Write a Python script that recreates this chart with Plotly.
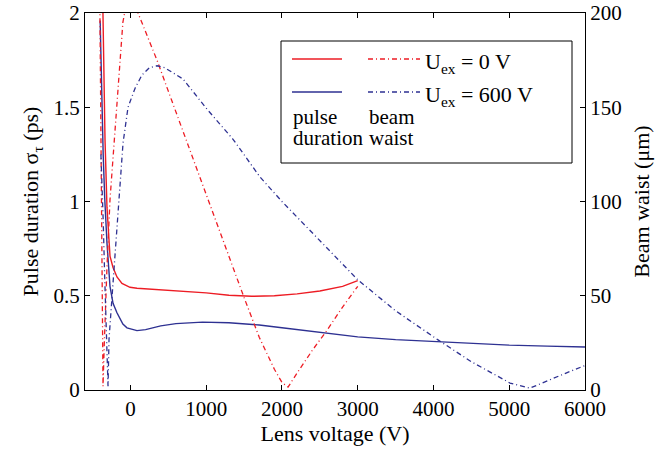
import plotly.graph_objects as go

# ---- data ----
# Pulse duration, U_ex = 0 V (left axis, ps)
pd0_x = [-365, -350, -336, -310, -290, -270, -230, -178, -112, -6, 86, 300, 600, 1000, 1300, 1600, 1900, 2200, 2500, 2800, 3000]
pd0_y = [2.05, 1.6, 1.33, 0.97, 0.8, 0.71, 0.65, 0.6, 0.565, 0.545, 0.54, 0.535, 0.528, 0.515, 0.503, 0.497, 0.5, 0.51, 0.525, 0.55, 0.58]

# Pulse duration, U_ex = 600 V (left axis, ps)
pd600_x = [-400, -380, -360, -340, -310, -270, -230, -178, -100, -46, 86, 200, 400, 600, 950, 1300, 1700, 2000, 2500, 3000, 3500, 4000, 4500, 5000, 5500, 6000]
pd600_y = [1.96, 1.55, 1.25, 1.02, 0.78, 0.55, 0.46, 0.41, 0.35, 0.33, 0.315, 0.32, 0.34, 0.352, 0.36, 0.357, 0.345, 0.33, 0.305, 0.282, 0.267, 0.256, 0.246, 0.238, 0.233, 0.228]

# Beam waist, U_ex = 0 V (right axis, um)
bw0_x = [-405, -400, -395, -390, -385, -380, -375, -370, -362, -345, -330, -310, -270, -204, -140, -100, -60, 0, 50, 100, 350, 550, 750, 1000, 1250, 1500, 1700, 1900, 2000, 2080, 2200, 2400, 2600, 2800, 3000]
bw0_y = [210, 180, 150, 115, 85, 55, 30, 12, 2, 25, 45, 65, 101, 137, 175, 195, 204, 207, 205, 200, 175, 153, 131, 104, 76, 49, 28, 11, 4, 1.5, 9, 21, 32, 44, 55]

# Beam waist, U_ex = 600 V (right axis, um)
bw600_x = [-390, -375, -360, -340, -320, -305, -296, -283, -244, -204, -164, -125, -98, -32, 60, 150, 250, 350, 450, 694, 1010, 1354, 1710, 2000, 2500, 3000, 3500, 4060, 4500, 5010, 5274, 5500, 5750, 6000]
bw600_y = [125, 110, 90, 60, 30, 10, 2, 27, 49, 74, 97, 119, 131, 150, 160, 167, 171, 172, 171, 165, 149, 133, 113, 100, 79, 58.5, 42, 26.6, 15, 3.7, 1, 5, 9, 13]

x_ticks = [0, 1000, 2000, 3000, 4000, 5000, 6000]
y1_ticks = [0, 0.5, 1, 1.5, 2]
y1_labels = ["0", "0.5", "1", "1.5", "2"]
y2_ticks = [0, 50, 100, 150, 200]

RED = "#ED1C24"
BLUE = "#2E3192"
DASHDOT = "5px,3px,1px,3px"
FONT = "Liberation Serif"
FS = 21
FT = 22

W, H = 669, 453
L, R, T, B = 85, 84, 13, 63

fig = go.Figure()
fig.add_trace(go.Scatter(x=pd0_x, y=pd0_y, mode="lines", line=dict(color=RED, width=1.4), yaxis="y"))
fig.add_trace(go.Scatter(x=pd600_x, y=pd600_y, mode="lines", line=dict(color=BLUE, width=1.4), yaxis="y"))
fig.add_trace(go.Scatter(x=bw0_x, y=bw0_y, mode="lines", line=dict(color=RED, width=1.3, dash=DASHDOT), yaxis="y2"))
fig.add_trace(go.Scatter(x=bw600_x, y=bw600_y, mode="lines", line=dict(color=BLUE, width=1.3, dash=DASHDOT), yaxis="y2"))

axis_common = dict(showgrid=False, zeroline=False, showline=True, linecolor="black", linewidth=1,
                   automargin=False, ticklabeloverflow="allow",
                   ticks="inside", ticklen=5, tickcolor="black", tickfont=dict(family=FONT, size=FS, color="black"))

fig.update_layout(
    width=W, height=H,
    margin=dict(l=L, r=R, t=T, b=B),
    paper_bgcolor="white", plot_bgcolor="white",
    showlegend=False,
    font=dict(family=FONT, size=FS, color="black"),
    xaxis=dict(range=[-600, 6000], tickvals=x_ticks, mirror="ticks",
               title=dict(text="Lens voltage (V)", font=dict(family=FONT, size=FT), standoff=2),
               **axis_common),
    yaxis=dict(range=[0, 2], tickvals=y1_ticks, ticktext=y1_labels,
               title=dict(text="Pulse duration σ<sub>τ</sub> (ps)", font=dict(family=FONT, size=FT), standoff=8),
               **axis_common),
    yaxis2=dict(range=[0, 200], tickvals=y2_ticks, overlaying="y", side="right",
                title=dict(text="Beam waist (μm)", font=dict(family=FONT, size=FT), standoff=12),
                **axis_common),
)

# ---- custom legend box (positions in window pixels) ----
def px2x(p):
    return (p - L) / (W - L - R)

def py2y(p):
    return (H - B - p) / (H - T - B)

fig.add_shape(type="rect", xref="paper", yref="paper", x0=px2x(281), x1=px2x(572), y0=py2y(163), y1=py2y(41),
              line=dict(color="black", width=1), fillcolor="white", layer="above")
rows = [(59, RED, "U<sub>ex</sub> = 0 V"), (92, BLUE, "U<sub>ex</sub> = 600 V")]
for py, col, txt in rows:
    fig.add_shape(type="line", xref="paper", yref="paper", x0=px2x(292), x1=px2x(342), y0=py2y(py), y1=py2y(py),
                  line=dict(color=col, width=1.4), layer="above")
    fig.add_shape(type="line", xref="paper", yref="paper", x0=px2x(368), x1=px2x(420), y0=py2y(py), y1=py2y(py),
                  line=dict(color=col, width=1.3, dash=DASHDOT), layer="above")
    fig.add_annotation(x=px2x(423), y=py2y(py + 4), xref="paper", yref="paper", text=txt, showarrow=False,
                       xanchor="left", yanchor="middle", font=dict(family=FONT, size=FT, color="black"))
for px, py, txt in [(291, 117, "pulse"), (291, 138, "duration"), (367, 117, "beam"), (367, 138, "waist")]:
    fig.add_annotation(x=px2x(px), y=py2y(py), xref="paper", yref="paper", text=txt, showarrow=False,
                       xanchor="left", yanchor="middle", font=dict(family=FONT, size=FS, color="black"))

# remove the default 8px page margin so the figure sits at the window origin
fig.write_html("out.html", config={"displayModeBar": False},
               post_script="document.body.style.margin='0';document.body.style.overflow='hidden';")
